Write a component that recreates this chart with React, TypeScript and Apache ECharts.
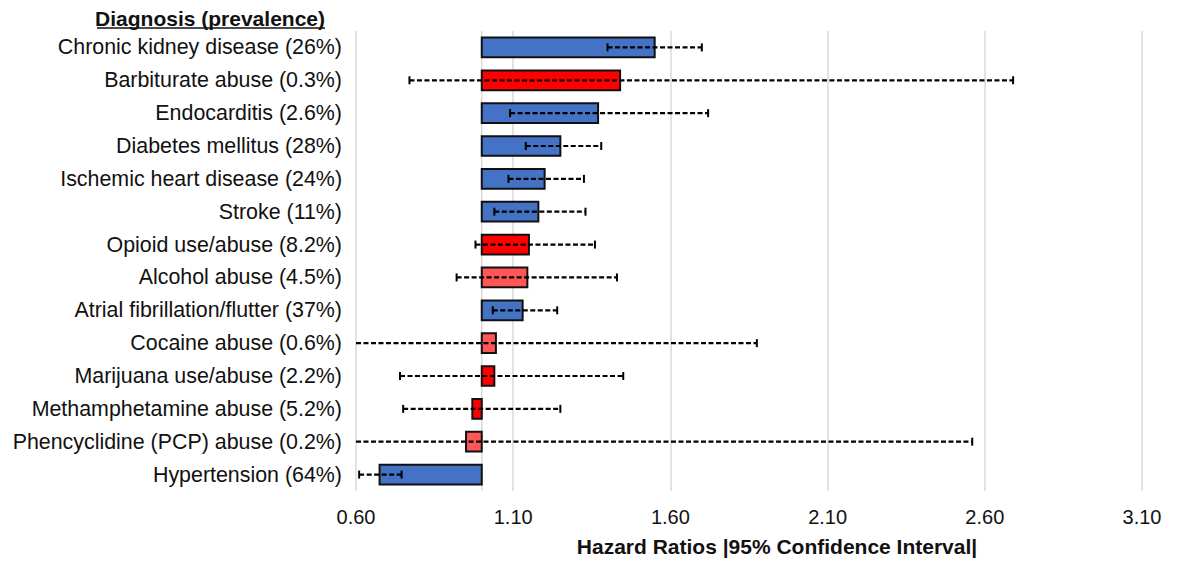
import React, { useEffect, useRef } from "react";
import * as echarts from "echarts";

const categories = [
  "Chronic kidney disease (26%)",
  "Barbiturate abuse (0.3%)",
  "Endocarditis (2.6%)",
  "Diabetes mellitus (28%)",
  "Ischemic heart disease (24%)",
  "Stroke (11%)",
  "Opioid use/abuse (8.2%)",
  "Alcohol abuse (4.5%)",
  "Atrial fibrillation/flutter (37%)",
  "Cocaine abuse (0.6%)",
  "Marijuana use/abuse (2.2%)",
  "Methamphetamine abuse (5.2%)",
  "Phencyclidine (PCP) abuse (0.2%)",
  "Hypertension (64%)",
];

const hazardRatios = [1.55, 1.44, 1.37, 1.25, 1.2, 1.18, 1.15, 1.145, 1.13, 1.045, 1.04, 0.97, 0.95, 0.675];
const ciLower = [1.4, 0.77, 1.09, 1.14, 1.085, 1.04, 0.98, 0.92, 1.035, 0.58, 0.74, 0.75, 0.35, 0.61];
const ciUpper = [1.7, 2.69, 1.72, 1.38, 1.325, 1.33, 1.36, 1.43, 1.24, 1.875, 1.45, 1.25, 2.56, 0.745];
const barGroups = ["blue", "red", "blue", "blue", "blue", "blue", "red", "lightRed", "blue", "lightRed", "red", "red", "lightRed", "blue"];

const axisMin = 0.6;
const axisMax = 3.1;
const tickStep = 0.5;
const referenceValue = 1.0;

const groupColors: Record<string, string> = {
  blue: "#4472C4",
  red: "#FF0000",
  lightRed: "#FF5757",
};

const FONT = "'Liberation Sans', Arial, Helvetica, sans-serif";

export default function App() {
  const ref = useRef<HTMLDivElement>(null);

  useEffect(() => {
    if (!ref.current) return;
    const chart = echarts.init(ref.current, null, { renderer: "svg" });
    const shift = axisMin;
    const span = axisMax - axisMin;

    const barData = categories.map((_, i) => [hazardRatios[i] - shift, i]);
    const errData = categories.map((_, i) => [ciLower[i] - shift, ciUpper[i] - shift, i]);

    const option: any = {
      animation: false,
      backgroundColor: "#ffffff",
      textStyle: { fontFamily: FONT },
      grid: { left: 356, right: 35, top: 31, bottom: 73, containLabel: false },
      xAxis: {
        type: "value",
        min: 0,
        max: span,
        interval: tickStep,
        axisLine: { show: false },
        axisTick: { show: false },
        splitLine: { show: true, lineStyle: { color: "#d9d9d9", width: 1.5 } },
        axisLabel: {
          color: "#111111",
          fontSize: 20,
          fontFamily: FONT,
          margin: 16,
          formatter: (v: number) => (v + shift).toFixed(2),
        },
        name: "Hazard Ratios |95% Confidence Interval|",
        nameLocation: "middle",
        nameGap: 45,
        nameTextStyle: {
          color: "#111111",
          fontSize: 21,
          fontWeight: "bold",
          fontFamily: FONT,
          padding: [0, 0, 0, 56],
        },
      },
      yAxis: {
        type: "category",
        data: categories,
        inverse: true,
        axisLine: { show: false },
        axisTick: { show: false },
        splitLine: { show: false },
        axisLabel: { color: "#111111", fontSize: 21.4, fontFamily: FONT, margin: 14 },
      },
      graphic: [
        {
          type: "text",
          x: 325,
          y: 18,
          style: {
            text: "Diagnosis (prevalence)",
            fontSize: 21,
            fontWeight: "bold",
            fontFamily: FONT,
            fill: "#111111",
            textAlign: "right",
            textVerticalAlign: "middle",
          },
        },
        {
          type: "line",
          shape: { x1: 97, y1: 28, x2: 325, y2: 28 },
          style: { stroke: "#111111", lineWidth: 1.5 },
        },
      ],
      series: [
        {
          type: "custom",
          z: 1,
          silent: true,
          data: [[referenceValue - shift]],
          encode: { x: 0 },
          renderItem: (params: any, api: any) => {
            const cs = params.coordSys;
            const x = api.coord([api.value(0), 0])[0];
            return {
              type: "line",
              shape: { x1: x, y1: cs.y, x2: x, y2: cs.y + cs.height },
              style: { stroke: "#d9d9d9", lineWidth: 1.5 },
            };
          },
        },
        {
          type: "custom",
          z: 2,
          data: barData,
          encode: { x: 0, y: 1 },
          renderItem: (params: any, api: any) => {
            const hr = api.value(0);
            const idx = api.value(1);
            const p0 = api.coord([referenceValue - shift, idx]);
            const p1 = api.coord([hr, idx]);
            const h = api.size([0, 1])[1] * 0.6;
            return {
              type: "rect",
              shape: {
                x: Math.min(p0[0], p1[0]),
                y: p0[1] - h / 2,
                width: Math.abs(p1[0] - p0[0]),
                height: h,
              },
              style: {
                fill: groupColors[barGroups[params.dataIndex]],
                stroke: "#111111",
                lineWidth: 2,
              },
            };
          },
        },
        {
          type: "custom",
          z: 3,
          data: errData,
          encode: { x: [0, 1], y: 2 },
          renderItem: (params: any, api: any) => {
            const lo = api.value(0);
            const hi = api.value(1);
            const idx = api.value(2);
            const loC = Math.max(lo, 0);
            const hiC = Math.min(hi, span);
            const a = api.coord([loC, idx]);
            const b = api.coord([hiC, idx]);
            const y = a[1];
            const children: any[] = [
              {
                type: "line",
                shape: { x1: a[0], y1: y, x2: b[0], y2: y },
                style: { stroke: "#000000", lineWidth: 2.2, lineDash: [5, 2.5] },
              },
            ];
            if (lo >= 0) {
              children.push({
                type: "line",
                shape: { x1: a[0], y1: y - 4, x2: a[0], y2: y + 4 },
                style: { stroke: "#000000", lineWidth: 2 },
              });
            }
            if (hi <= span) {
              children.push({
                type: "line",
                shape: { x1: b[0], y1: y - 4, x2: b[0], y2: y + 4 },
                style: { stroke: "#000000", lineWidth: 2 },
              });
            }
            return { type: "group", children };
          },
        },
      ],
    };

    chart.setOption(option);
    return () => chart.dispose();
  }, []);

  return (
    <div
      ref={ref}
      style={{ position: "fixed", left: 0, top: 0, width: 1177, height: 564, background: "#fff" }}
    />
  );
}
